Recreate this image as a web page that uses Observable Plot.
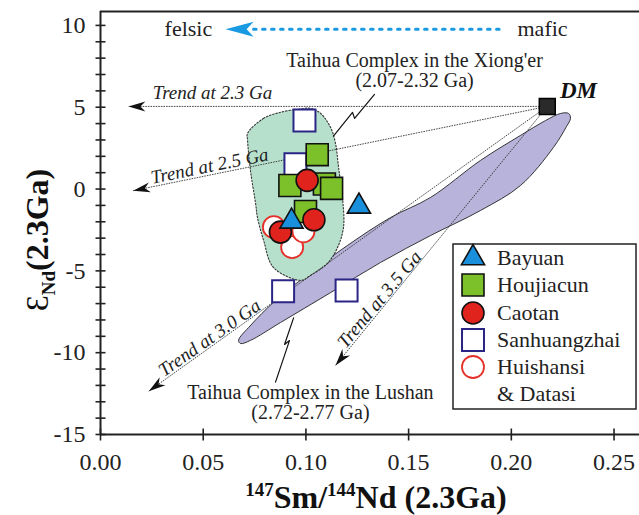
<!DOCTYPE html>
<html><head><meta charset="utf-8">
<script src="https://cdn.jsdelivr.net/npm/d3@7"></script>
<script src="https://cdn.jsdelivr.net/npm/@observablehq/plot@0.6"></script>
<style>
body{margin:0;background:#fff;}
#wrap{width:639px;height:515px;}
</style></head>
<body><div id="wrap"></div>
<script>
// ---- axes ----
const xDomain = [0, 0.2624];
const yDomain = [-15, 10.85];
const xTicks = [0, 0.05, 0.10, 0.15, 0.20, 0.25];
const yLabelTicks = [-15, -10, -5, 0, 5, 10];
const yMinorTicks = [-15,-14,-13,-12,-11,-10,-9,-8,-7,-6,-5,-4,-3,-2,-1,0,1,2,3,4,5,6,7,8,9,10];

// ---- sample groups ----
const bayuanX = [0.1258, 0.0930];
const bayuanY = [-1.06, -1.98];
const houjiacunX = [0.1055, 0.0922, 0.1090, 0.1125, 0.0998];
const houjiacunY = [2.10, 0.22, 0.31, 0.04, -1.37];
const caotanX = [0.1006, 0.1039, 0.0876];
const caotanY = [0.53, -1.88, -2.63];
const sanhuangzhaiX = [0.0993, 0.0949, 0.0889, 0.1198];
const sanhuangzhaiY = [4.19, 1.51, -6.24, -6.20];
const huishansiX = [0.0844, 0.0933, 0.0988];
const huishansiY = [-2.33, -3.55, -2.59];

// ---- depleted mantle and trends ----
const dmX = 0.2175, dmY = 5.05;
const trendNames = ["Trend at 2.3 Ga", "Trend at 2.5 Ga", "Trend at 3.0 Ga", "Trend at 3.5 Ga"];
const trendEndX = [0.0136, 0.0159, 0.0235, 0.1144];
const trendEndY = [5.05, -0.10, -12.35, -10.78];
const trendLabelX = [0.0545, 0.0531, 0.0531, 0.1358];
const trendLabelY = [5.87, 1.41, -9.10, -6.75];
const trendLabelAngle = [0, -11.5, -35, -50];

// ---- fields ----
const xiongerFieldX = [0.0716,0.0794,0.0876,0.0959,0.1022,0.1071,0.1120,0.1144,0.1159,0.1178,0.1183,0.1154,0.1105,0.1022,0.0974,0.0842,0.0794,0.0764,0.0755,0.0730,0.0716];
const xiongerFieldY = [3.40,4.32,4.69,4.87,4.93,4.63,3.77,2.79,1.32,-0.51,-2.34,-3.57,-4.54,-5.28,-5.58,-4.79,-3.14,-1.73,-0.88,1.14,2.98];
const lushanFieldX = [0.0672,0.0730,0.0852,0.1022,0.1202,0.1412,0.1607,0.1850,0.2045,0.2167,0.2240,0.2279,0.2288,0.2269,0.2205,0.2045,0.1850,0.1607,0.1363,0.1120,0.0876,0.0730,0.0682];
const lushanFieldY = [-9.25,-8.34,-6.81,-5.10,-3.45,-1.74,-0.51,1.75,3.28,4.19,4.62,4.62,4.32,3.83,2.54,0.22,-1.31,-2.84,-4.49,-6.33,-8.16,-9.25,-9.44];

// ---- annotations ----
const felsicMaficY = 9.76;
const felsicArrowTipX = 0.0609, dottedStartX = 0.0745, dottedEndX = 0.1947;
const felsicLabel = {text: "felsic", x: 0.0428, y: 9.76};
const maficLabel = {text: "mafic", x: 0.2152, y: 9.76};
const dmLabel = {text: "DM", x: 0.2327, y: 6.03};
const xiongerNote = {text: "Taihua Complex in the Xiong'er\n(2.07-2.32 Ga)", x: 0.1529, y: 7.25};
const lushanNote = {text: "Taihua Complex in the Lushan\n(2.72-2.77 Ga)", x: 0.1022, y: -13.04};
const xiongerLeaderX = [0.1134, 0.1227, 0.1237, 0.1334];
const xiongerLeaderY = [3.24, 4.68, 4.32, 5.78];
const lushanLeaderX = [0.0940, 0.0896, 0.0920, 0.0852];
const lushanLeaderY = [-7.87, -9.50, -9.26, -11.80];

const legendNames = ["Bayuan", "Houjiacun", "Caotan", "Sanhuangzhai", "Huishansi", "& Datasi"];

// ---- build tables ----
const zip = (xs, ys) => xs.map((x, i) => ({x, y: ys[i]}));
const bayuan = zip(bayuanX, bayuanY);
const houjiacun = zip(houjiacunX, houjiacunY);
const caotan = zip(caotanX, caotanY);
const sanhuangzhai = zip(sanhuangzhaiX, sanhuangzhaiY);
const huishansi = zip(huishansiX, huishansiY);
const xiongerField = zip(xiongerFieldX, xiongerFieldY);
const lushanField = zip(lushanFieldX, lushanFieldY);
const trends = trendNames.map((name, i) => ({name, x2: trendEndX[i], y2: trendEndY[i], lx: trendLabelX[i], ly: trendLabelY[i], a: trendLabelAngle[i]}));

const W = 639, H = 515;
const M = {top: 11, right: 0, bottom: 81, left: 100};
const SERIF = "Liberation Serif, Times New Roman, serif";

const sx = Plot.scale({x: {domain: xDomain, range: [M.left, W - M.right]}});
const sy = Plot.scale({y: {domain: yDomain, range: [H - M.bottom, M.top]}});

function dart(len, half, notch, ang) {
  const c = Math.cos(ang), s = Math.sin(ang);
  const pts = [[0,0],[-len,-half],[-notch,0],[-len,half]].map(([px,py]) => [px*c - py*s, px*s + py*c]);
  return {draw(ctx) { ctx.moveTo(pts[0][0], pts[0][1]); for (let i = 1; i < pts.length; i++) ctx.lineTo(pts[i][0], pts[i][1]); ctx.closePath(); }};
}
const hTick = (l) => ({draw(ctx){ ctx.moveTo(-l,0); ctx.lineTo(l,0); }});
const vTick = (l) => ({draw(ctx){ ctx.moveTo(0,-l); ctx.lineTo(0,l); }});

const arrowMarks = trends.map(t => {
  const ang = Math.atan2(sy.apply(t.y2) - sy.apply(dmY), sx.apply(t.x2) - sx.apply(dmX));
  return Plot.dot([t], {x: "x2", y: "y2", symbol: dart(17, 5, 12, ang), r: 5, fill: "#111", stroke: "none"});
});

const chart = Plot.plot({
  width: W, height: H,
  marginTop: M.top, marginRight: M.right, marginBottom: M.bottom, marginLeft: M.left,
  x: {domain: xDomain, axis: null},
  y: {domain: yDomain, axis: null},
  style: {fontFamily: SERIF, background: "white", color: "#222", overflow: "visible"},
  marks: [
    Plot.line(lushanField, {x: "x", y: "y", curve: "catmull-rom-closed", fill: "#b7b3da", stroke: "#222", strokeWidth: 0.9}),
    Plot.line(xiongerField, {x: "x", y: "y", curve: "catmull-rom-closed", fill: "#b6e0cc", stroke: "#333", strokeWidth: 1.1, strokeDasharray: "1.5,1.8"}),
    Plot.link(trends, {x1: () => dmX, y1: () => dmY, x2: "x2", y2: "y2", stroke: "#333", strokeWidth: 0.9, strokeDasharray: "1.6,1"}),
    ...arrowMarks,
    Plot.line([{x: dottedStartX, y: felsicMaficY}, {x: dottedEndX, y: felsicMaficY}], {x: "x", y: "y", stroke: "#1b9ae4", strokeWidth: 3, strokeDasharray: "2.6,6.4"}),
    Plot.dot([{x: felsicArrowTipX, y: felsicMaficY}], {x: "x", y: "y", symbol: dart(28, 7.5, 21, Math.PI), r: 5, fill: "#1b9ae4", stroke: "none"}),
    Plot.line(zip(xiongerLeaderX, xiongerLeaderY), {x: "x", y: "y", stroke: "#111", strokeWidth: 1.2}),
    Plot.line(zip(lushanLeaderX, lushanLeaderY), {x: "x", y: "y", stroke: "#111", strokeWidth: 1.2}),
    Plot.dot(huishansi, {x: "x", y: "y", symbol: "circle", r: 11, fill: "white", stroke: "#e5302a", strokeWidth: 1.8}),
    Plot.dot(sanhuangzhai, {x: "x", y: "y", symbol: "square", r: 12.4, fill: "white", stroke: "#2b2585", strokeWidth: 2}),
    Plot.dot(houjiacun, {x: "x", y: "y", symbol: "square", r: 12.4, fill: "#7dc12a", stroke: "#111", strokeWidth: 1.6}),
    Plot.dot(caotan, {x: "x", y: "y", symbol: "circle", r: 11, fill: "#e0231d", stroke: "#111", strokeWidth: 1.6}),
    Plot.dot(bayuan, {x: "x", y: "y", symbol: "triangle", r: 8.6, fill: "#1a8fdc", stroke: "#111", strokeWidth: 1.6}),
    Plot.dot([{x: dmX, y: dmY}], {x: "x", y: "y", symbol: "square", r: 9, fill: "#2a2a2a", stroke: "#000", strokeWidth: 1.5}),
    Plot.text(trends, {x: "lx", y: "ly", text: "name", rotate: "a", fontSize: 19, fontStyle: "italic", fontFamily: SERIF, fill: "#222"}),
    Plot.text([felsicLabel, maficLabel], {x: "x", y: "y", text: "text", fontSize: 22, fontFamily: SERIF, fill: "#222"}),
    Plot.text([dmLabel], {x: "x", y: "y", text: "text", fontSize: 23, fontWeight: "bold", fontStyle: "italic", fontFamily: SERIF, fill: "#111"}),
    Plot.text([xiongerNote, lushanNote], {x: "x", y: "y", text: "text", fontSize: 20, lineHeight: 1.0, fontFamily: SERIF, fill: "#222"}),
    // axes
    Plot.ruleX([xDomain[0]], {stroke: "#222", strokeWidth: 2}),
    Plot.ruleY([yDomain[0]], {stroke: "#222", strokeWidth: 2}),
    Plot.ruleY([yDomain[1]], {stroke: "#222", strokeWidth: 2}),
    Plot.dot(yMinorTicks, {x: () => xDomain[0], y: d => d, symbol: hTick(5), r: 3, fill: "none", stroke: "#222", strokeWidth: 1.6}),
    Plot.dot(xTicks, {x: d => d, y: () => yDomain[0], symbol: vTick(6), r: 3, fill: "none", stroke: "#222", strokeWidth: 1.6}),
    Plot.axisX(xTicks, {tickSize: 0, tickPadding: 18, tickFormat: d3.format(".2f"), fontSize: 24, label: null, fontFamily: SERIF}),
    Plot.axisY(yLabelTicks, {tickSize: 0, tickPadding: 15, tickFormat: d => String(d), fontSize: 24, label: null, fontFamily: SERIF})
  ]
});

const svg = d3.select(chart);
// axis titles
const xt = svg.append("text").attr("x", 376).attr("y", 508).attr("text-anchor", "middle")
  .attr("font-family", SERIF).attr("font-weight", "bold").attr("font-size", 32).attr("fill", "#111");
xt.append("tspan").attr("font-size", 19).attr("dy", -12).text("147");
xt.append("tspan").attr("dy", 12).text("Sm/");
xt.append("tspan").attr("font-size", 19).attr("dy", -12).text("144");
xt.append("tspan").attr("dy", 12).text("Nd (2.3Ga)");

const yt = svg.append("text").attr("transform", "translate(48,240) rotate(-90)").attr("text-anchor", "middle")
  .attr("font-family", SERIF).attr("font-weight", "bold").attr("font-size", 32).attr("fill", "#111");
yt.append("tspan").attr("font-weight", "normal").text("Ɛ");
yt.append("tspan").attr("font-size", 19).attr("dy", 7).text("Nd");
yt.append("tspan").attr("dy", -7).text("(2.3Ga)");

// legend
const lg = svg.append("g").attr("transform", "translate(453,244)");
lg.append("rect").attr("width", 183).attr("height", 165).attr("fill", "white").attr("stroke", "#222").attr("stroke-width", 1.5);
const legendSym = [
  {type: d3.symbolTriangle, r: 8.6, fill: "#1a8fdc", stroke: "#111", sw: 1.6},
  {type: d3.symbolSquare, r: 12.4, fill: "#7dc12a", stroke: "#111", sw: 1.6},
  {type: d3.symbolCircle, r: 11, fill: "#e0231d", stroke: "#111", sw: 1.6},
  {type: d3.symbolSquare, r: 12.4, fill: "white", stroke: "#2b2585", sw: 2},
  {type: d3.symbolCircle, r: 11, fill: "white", stroke: "#e5302a", sw: 1.8},
  null
];
const rowY = [14, 41, 69, 96, 123, 150];
legendNames.forEach((name, i) => {
  const s = legendSym[i];
  if (s) lg.append("path").attr("d", d3.symbol(s.type, Math.PI * s.r * s.r)()).attr("transform", `translate(20,${rowY[i]})`)
    .attr("fill", s.fill).attr("stroke", s.stroke).attr("stroke-width", s.sw);
  lg.append("text").attr("x", 44).attr("y", rowY[i]).attr("dy", "0.33em").attr("text-anchor", "start")
    .attr("font-family", SERIF).attr("font-size", 22).attr("fill", "#222").text(name);
});

document.getElementById("wrap").appendChild(chart);
</script>
</body></html>
